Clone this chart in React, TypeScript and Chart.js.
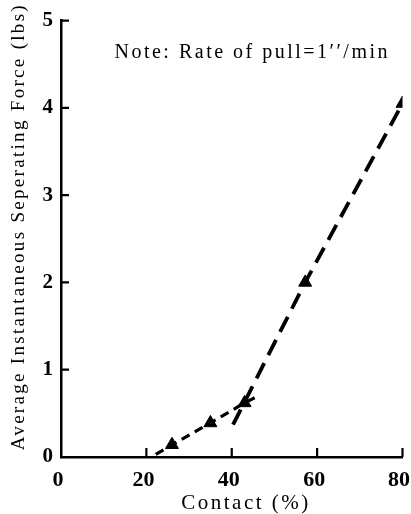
import React, { useEffect, useRef } from "react";
import { Chart, registerables } from "chart.js";
Chart.register(...registerables);

const xTicks = [0, 20, 40, 60, 80];
const yTicks = [0, 1, 2, 3, 4, 5];
const pointX = [26, 35, 43, 57.2, 80];
const pointY = [0.14, 0.39, 0.62, 2.0, 4.05];
const lowX = [22.2, 26, 35, 43, 46.6];
const lowY = [0.03, 0.14, 0.39, 0.62, 0.71];
const highX = [40.3, 57.2, 80];
const highY = [0.37, 2.0, 4.05];
const xTitle = "Contact (%)";
const yTitle = "Average Instantaneous Seperating Force (lbs)";
const note = "Note: Rate of pull=1′′/min";

const SERIF = '"Liberation Serif", "DejaVu Serif", serif';

function zip(xs: number[], ys: number[]) {
  return xs.map((x, i) => ({ x, y: ys[i] }));
}

function drawSpaced(ctx: any, text: string, cx: number, cy: number, target: number) {
  ctx.letterSpacing = "0px";
  const w = ctx.measureText(text).width;
  const n = text.length;
  const sp = Math.max(0, (target - w) / Math.max(1, n - 1));
  ctx.letterSpacing = sp + "px";
  ctx.textAlign = "left";
  ctx.textBaseline = "middle";
  ctx.fillText(text, cx - target / 2, cy);
  ctx.letterSpacing = "0px";
}

const decor = {
  id: "decor",
  afterDraw(chart: any) {
    const { ctx, chartArea, scales } = chart;
    const xs = scales.x;
    const ys = scales.y;
    ctx.save();
    ctx.strokeStyle = "#000";
    ctx.fillStyle = "#000";
    ctx.lineWidth = 2.2;
    ctx.beginPath();
    yTicks.slice(1).forEach((v) => {
      const y = ys.getPixelForValue(v);
      ctx.moveTo(chartArea.left, y);
      ctx.lineTo(chartArea.left + 8, y);
    });
    xTicks.slice(1).forEach((v) => {
      const x = xs.getPixelForValue(v);
      ctx.moveTo(x, chartArea.bottom);
      ctx.lineTo(x, chartArea.bottom - 9);
    });
    ctx.stroke();

    ctx.font = "bold 22px " + SERIF;
    ctx.textAlign = "center";
    ctx.textBaseline = "middle";
    xTicks.forEach((v) => {
      const x = xs.getPixelForValue(v);
      const label = String(v);
      const w = ctx.measureText(label).width;
      const cx = Math.min(x - 3, chart.width - w / 2 - 1);
      ctx.fillText(label, cx, chartArea.bottom + 23);
    });

    ctx.font = "21px " + SERIF;
    drawSpaced(ctx, xTitle, (chartArea.left + chartArea.right) / 2 + 13, chartArea.bottom + 46, 127);

    ctx.save();
    ctx.translate(19, (chartArea.top + chartArea.bottom) / 2 - 11);
    ctx.rotate(-Math.PI / 2);
    ctx.font = "19px " + SERIF;
    drawSpaced(ctx, yTitle, 0, 0, 445);
    ctx.restore();

    ctx.font = "20px " + SERIF;
    drawSpaced(ctx, note, chartArea.left + 190, chartArea.top + 32, 273);
    ctx.restore();
  },
};

export default function App() {
  const ref = useRef<HTMLCanvasElement>(null);
  useEffect(() => {
    document.body.style.margin = "0";
    const chart = new Chart(ref.current!, {
      type: "scatter",
      data: {
        datasets: [
          {
            data: zip(pointX, pointY),
            pointStyle: "triangle",
            pointRadius: 7.5,
            backgroundColor: "#000",
            borderColor: "#000",
            borderWidth: 1,
            showLine: false,
            order: 0,
          },
          {
            data: zip(lowX, lowY),
            showLine: true,
            pointRadius: 0,
            borderColor: "#000",
            borderWidth: 3.2,
            borderDash: [9, 6],
            fill: false,
            order: 1,
          },
          {
            data: zip(highX, highY),
            showLine: true,
            pointRadius: 0,
            borderColor: "#000",
            borderWidth: 3.8,
            borderDash: [17, 9],
            fill: false,
            order: 1,
          },
        ],
      },
      options: {
        responsive: false,
        animation: false,
        layout: { padding: { top: 20, right: 5, left: 0, bottom: 0 } },
        plugins: { legend: { display: false }, tooltip: { enabled: false }, title: { display: false } },
        scales: {
          x: {
            type: "linear",
            min: 0,
            max: 80,
            grid: { display: false, drawTicks: false },
            border: { display: true, color: "#000", width: 2.5 },
            ticks: { display: false, stepSize: 20 },
            afterFit: (s: any) => {
              s.height = 57;
              s.paddingLeft = 0;
              s.paddingRight = 0;
            },
          },
          y: {
            type: "linear",
            min: 0,
            max: 5,
            grid: { display: false, drawTicks: false },
            border: { display: true, color: "#000", width: 2.5 },
            ticks: {
              stepSize: 1,
              padding: 8,
              color: "#000",
              font: { family: SERIF, size: 21, weight: "bold" },
            },
            afterFit: (s: any) => {
              s.width = 61;
            },
          },
        },
      },
      plugins: [decor],
    });
    return () => chart.destroy();
  }, []);
  return (
    <div style={{ width: 411, height: 514 }}>
      <canvas ref={ref} width={411} height={514} />
    </div>
  );
}
